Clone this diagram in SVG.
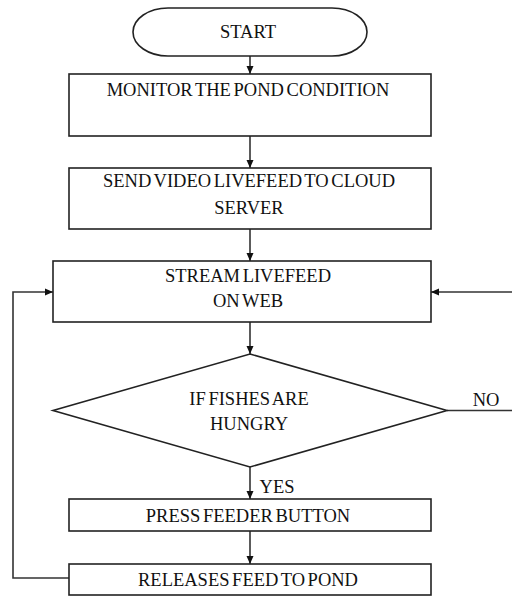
<svg xmlns="http://www.w3.org/2000/svg" width="512" height="596" viewBox="0 0 512 596">
<style>
.s{fill:#fff;stroke:#222;stroke-width:1.6}
.c{fill:none;stroke:#333;stroke-width:1.6}
text{font-family:"Liberation Serif","Times New Roman",serif;font-size:18.5px;fill:#111;text-anchor:middle;word-spacing:-2px}
</style>
<defs>
<marker id="ah" markerWidth="8" markerHeight="8" refX="8" refY="4" orient="auto" markerUnits="userSpaceOnUse">
<path d="M0,0.5 L8,4 L0,7.5 Z" fill="#111"/>
</marker>
</defs>
<rect width="512" height="596" fill="#fff"/>
<g id="connectors">
<line class="c" x1="250" y1="56" x2="250" y2="74" marker-end="url(#ah)"/>
<line class="c" x1="250" y1="136" x2="250" y2="168" marker-end="url(#ah)"/>
<line class="c" x1="250" y1="229" x2="250" y2="261" marker-end="url(#ah)"/>
<line class="c" x1="250" y1="322" x2="250" y2="354" marker-end="url(#ah)"/>
<line class="c" x1="250" y1="467" x2="250" y2="499" marker-end="url(#ah)"/>
<line class="c" x1="250" y1="531" x2="250" y2="564" marker-end="url(#ah)"/>
<polyline class="c" points="69,578 13,578 13,292 53,292" marker-end="url(#ah)"/>
<line class="c" x1="447" y1="410.5" x2="512" y2="410.5"/>
<line class="c" x1="512" y1="292" x2="431" y2="292" marker-end="url(#ah)"/>
<text x="486" y="406" font-size="17">NO</text>
<text x="277" y="493" font-size="16.5">YES</text>
</g>
<g id="start">
<rect class="s" x="133" y="8" width="234" height="48" rx="35" ry="24"/>
<text x="248" y="38">START</text>
</g>
<g id="monitor">
<rect class="s" x="69" y="74" width="362" height="62"/>
<text x="248" y="96">MONITOR THE POND CONDITION</text>
</g>
<g id="send">
<rect class="s" x="69" y="168" width="362" height="61"/>
<text x="249" y="187">SEND VIDEO LIVEFEED TO CLOUD</text>
<text x="249" y="214">SERVER</text>
</g>
<g id="stream">
<rect class="s" x="53" y="261" width="378" height="61"/>
<text x="248" y="282">STREAM LIVEFEED</text>
<text x="248" y="307">ON WEB</text>
</g>
<g id="decision">
<polygon class="s" points="250,354 447,410.5 250,467 53,410.5"/>
<text x="249" y="405">IF FISHES ARE</text>
<text x="249" y="430">HUNGRY</text>
</g>
<g id="press">
<rect class="s" x="69" y="499" width="362" height="32"/>
<text x="248" y="522">PRESS FEEDER BUTTON</text>
</g>
<g id="release">
<rect class="s" x="69" y="564" width="362" height="31"/>
<text x="248" y="586">RELEASES FEED TO POND</text>
</g>
</svg>
